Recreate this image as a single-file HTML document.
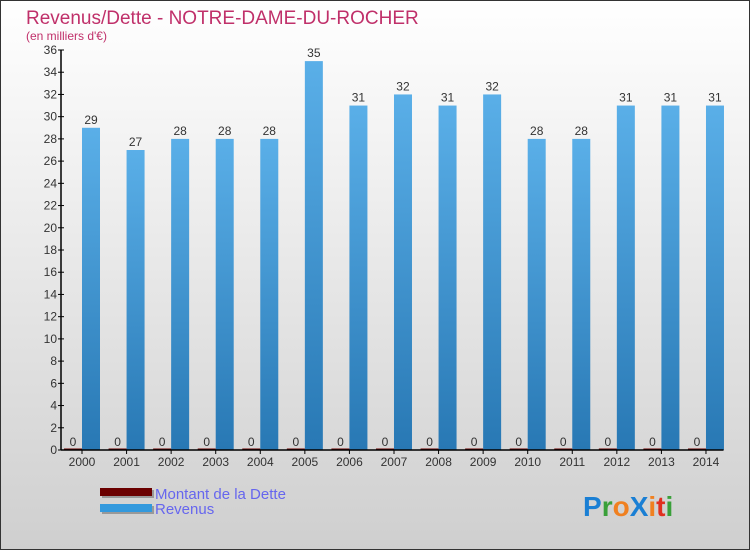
<!DOCTYPE html>
<html><head><meta charset="utf-8"><style>
html,body{margin:0;padding:0}
body{width:750px;height:550px;overflow:hidden;font-family:"Liberation Sans",sans-serif}
</style></head><body>
<svg id="c" width="750" height="550" xmlns="http://www.w3.org/2000/svg">
<defs>
<linearGradient id="bg" x1="0" y1="0" x2="0" y2="1"><stop offset="0" stop-color="#ffffff"/><stop offset="1" stop-color="#cfcfcf"/></linearGradient>
<linearGradient id="bar" x1="0" y1="0" x2="0" y2="1"><stop offset="0" stop-color="#5aafe8"/><stop offset="1" stop-color="#2878b4"/></linearGradient>
</defs>
<rect x="0.5" y="0.5" width="749" height="549" fill="url(#bg)" stroke="#333"/>
<text x="26" y="24" font-size="19" fill="#c0306a">Revenus/Dette - NOTRE-DAME-DU-ROCHER</text>
<text x="26" y="40" font-size="12" fill="#c0306a">(en milliers d'€)</text>
<g id="plot"></g>
<g>
<rect x="102" y="490" width="52" height="8" fill="#999"/>
<rect x="100" y="488" width="52" height="8" fill="#6b0000"/>
<text x="155" y="499" font-size="15" fill="#6666ee">Montant de la Dette</text>
<rect x="102" y="506" width="52" height="8" fill="#999"/>
<rect x="100" y="504" width="52" height="8" fill="#3399dd"/>
<text x="155" y="514" font-size="15" fill="#6666ee">Revenus</text>
</g>
<g font-size="28" font-weight="bold" font-family="Liberation Sans, sans-serif">
<text x="583" y="516"><tspan fill="#1a7fd4">P</tspan><tspan fill="#3aa03a">r</tspan><tspan fill="#f08020">o</tspan><tspan fill="#1a7fd4">X</tspan><tspan fill="#f08020">i</tspan><tspan fill="#e03020">t</tspan><tspan fill="#3aa03a">i</tspan></text>
</g>
</svg>
<script>
const years=["2000","2001","2002","2003","2004","2005","2006","2007","2008","2009","2010","2011","2012","2013","2014"];
const revenus=[29,27,28,28,28,35,31,32,31,32,28,28,31,31,31];
const dette=[0,0,0,0,0,0,0,0,0,0,0,0,0,0,0];
const yTicks=[0,2,4,6,8,10,12,14,16,18,20,22,24,26,28,30,32,34,36];
const NS="http://www.w3.org/2000/svg";
const g=document.getElementById('plot');
const X0=61,Y0=450,YTOP=50,BAND=44.57,YMAX=36;
const y=v=>Y0-(v/YMAX)*(Y0-YTOP);
const bx=i=>X0+i*BAND;
function el(t,a){const e=document.createElementNS(NS,t);for(const k in a)e.setAttribute(k,a[k]);g.appendChild(e);return e;}
revenus.forEach((v,i)=>{
 const r=el('rect',{x:bx(i)+21,y:y(v),width:18,height:Y0-y(v),fill:'url(#bar)'});
 
 
 const t=el('text',{x:bx(i)+30,y:y(v)-4,'font-size':12,'text-anchor':'middle',fill:'#333'});
 t.textContent=v;
 
 
});
dette.forEach((v,i)=>{
 const h=Math.max(Y0-y(v),1.5);
 const r=el('rect',{x:bx(i)+3,y:Y0-h,width:18,height:h,fill:'#6b0000'});
 
 
 const t=el('text',{x:bx(i)+12,y:y(v)-4,'font-size':12,'text-anchor':'middle',fill:'#333'});
 t.textContent=v;
 
 
 const lt=el('text',{x:bx(i)+21,y:Y0+16,'font-size':12,'text-anchor':'middle',fill:'#333'});
 lt.textContent=years[i];
 
 
 const tk=el('line',{x1:bx(i)+21,x2:bx(i)+21,y1:Y0,y2:Y0+4,stroke:'#000'});
 
 
});
yTicks.forEach(v=>{
 const l=el('line',{x1:X0-3,x2:X0+3,y1:y(v),y2:y(v),stroke:'#000'});
 
 
 const t=el('text',{x:X0-4,y:y(v)+4,'font-size':12,'text-anchor':'end',fill:'#333'});
 t.textContent=v;
 
 
});
const ya=el('line',{x1:X0,x2:X0,y1:YTOP,y2:Y0,stroke:'#000','stroke-width':1.5});


const xa=el('line',{x1:X0,x2:X0+years.length*BAND-6,y1:Y0,y2:Y0,stroke:'#000','stroke-width':1.5});


</script>
</body></html>
